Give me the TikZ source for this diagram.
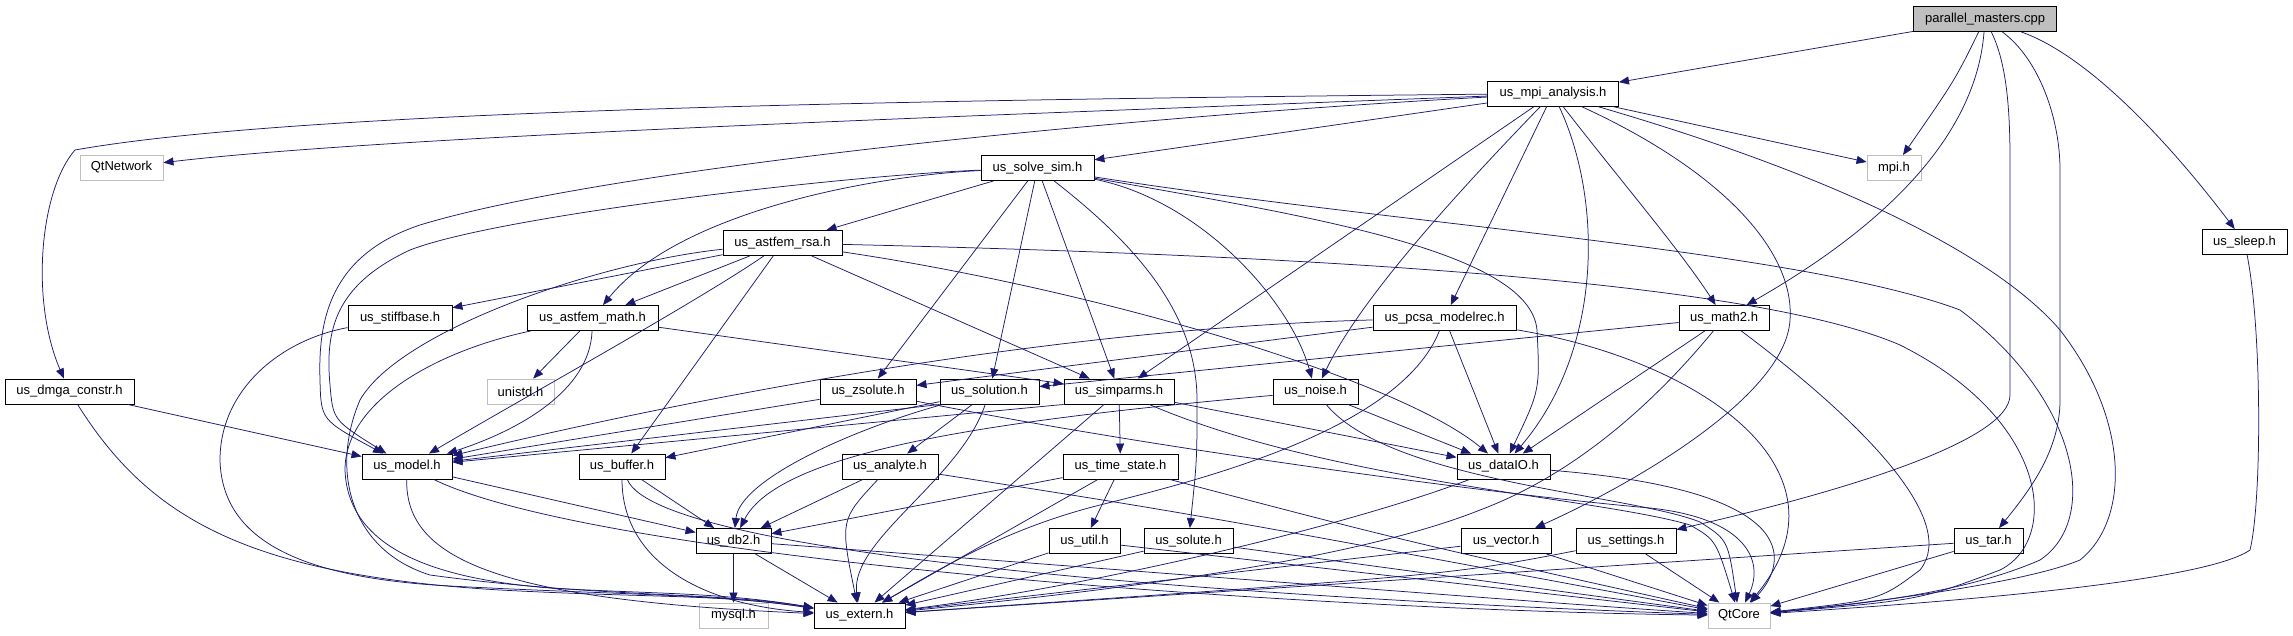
\documentclass[tikz,border=0pt]{standalone}
\usepackage{fontspec}
\setmainfont{Liberation Sans}
\usetikzlibrary{arrows.meta}
\definecolor{edgec}{RGB}{25,25,112}
\definecolor{grayb}{RGB}{191,191,191}
\tikzset{
  nb/.style={draw=black, line width=0.9pt, fill=white, minimum height=25pt, inner sep=0pt, font=\fontsize{13}{15}\selectfont},
  ng/.style={nb, draw=grayb},
  rootnode/.style={nb, fill=grayb},
  e/.style={draw=edgec, line width=0.75pt, -{Triangle[length=10pt,width=8pt]}}
}
\begin{document}
\begin{tikzpicture}[x=1pt,y=-1pt]
\useasboundingbox (0,0) rectangle (2293,635);
% nodes
\node[rootnode, minimum width=143pt] (pm) at (1985,19) {parallel\_masters.cpp};
\node[nb, minimum width=131pt] (mpi) at (1553,93.5) {us\_mpi\_analysis.h};
\node[ng, minimum width=83pt] (qtnet) at (121.5,167.5) {QtNetwork};
\node[nb, minimum width=113pt] (solve) at (1037.5,168) {us\_solve\_sim.h};
\node[ng, minimum width=54pt] (mpih) at (1894,168) {mpi.h};
\node[nb, minimum width=119pt] (rsa) at (782.5,243) {us\_astfem\_rsa.h};
\node[nb, minimum width=85pt] (sleep) at (2244.5,242) {us\_sleep.h};
\node[nb, minimum width=104pt] (stiff) at (400,318) {us\_stiffbase.h};
\node[nb, minimum width=131pt] (astmath) at (592.5,318) {us\_astfem\_math.h};
\node[nb, minimum width=143pt] (pcsa) at (1444.5,318) {us\_pcsa\_modelrec.h};
\node[nb, minimum width=90pt] (math2) at (1724,318) {us\_math2.h};
\node[nb, minimum width=129pt] (dmga) at (69.5,391.5) {us\_dmga\_constr.h};
\node[ng, minimum width=67pt] (unistd) at (520.5,391.5) {unistd.h};
\node[nb, minimum width=96pt] (zsolute) at (868,391.5) {us\_zsolute.h};
\node[nb, minimum width=99pt] (solution) at (989.5,391.5) {us\_solution.h};
\node[nb, minimum width=110pt] (simparms) at (1119,391.5) {us\_simparms.h};
\node[nb, minimum width=85pt] (noise) at (1315.5,391.5) {us\_noise.h};
\node[nb, minimum width=90pt] (model) at (407,466.5) {us\_model.h};
\node[nb, minimum width=86pt] (buffer) at (622,466.5) {us\_buffer.h};
\node[nb, minimum width=96pt] (analyte) at (890,466.5) {us\_analyte.h};
\node[nb, minimum width=115pt] (tstate) at (1120.5,466.5) {us\_time\_state.h};
\node[nb, minimum width=93pt] (dataio) at (1503.5,466.5) {us\_dataIO.h};
\node[nb, minimum width=75pt] (db2) at (733.5,541) {us\_db2.h};
\node[nb, minimum width=71pt] (util) at (1084.5,541) {us\_util.h};
\node[nb, minimum width=89pt] (solute) at (1188.5,541) {us\_solute.h};
\node[nb, minimum width=90pt] (vector) at (1506,541) {us\_vector.h};
\node[nb, minimum width=100pt] (settings) at (1626,541) {us\_settings.h};
\node[nb, minimum width=69pt] (tar) at (1988.5,541) {us\_tar.h};
\node[ng, minimum width=69pt] (mysql) at (733.5,615.5) {mysql.h};
\node[nb, minimum width=91pt] (extern) at (859.5,615.5) {us\_extern.h};
\node[ng, minimum width=62pt] (qtcore) at (1739,615.5) {QtCore};
% root
\draw[e] (pm) -- (mpi);
\draw[e] (pm) .. controls (1955,80) .. (mpih);
\draw[e] (pm) .. controls (1975,150) and (1860,240) .. (math2);
\draw[e] (pm) .. controls (2005,60) and (2010,100) .. (2010,160) -- (2010,395) .. controls (2010,440) and (1850,490) .. (settings);
\draw[e] (pm) .. controls (2040,60) and (2060,120) .. (2060,170) -- (2060,400) .. controls (2060,450) and (2030,490) .. (tar);
\draw[e] (pm) .. controls (2100,60) and (2190,170) .. (sleep);
% mpi
\draw[e] (mpi) .. controls (900,100) and (300,110) .. (75,150) .. controls (40,190) and (30,300) .. (dmga);
\draw[e] (mpi) .. controls (1000,115) and (400,135) .. (qtnet);
\draw[e] (mpi) -- (solve);
\draw[e] (mpi) .. controls (1100,118) and (600,170) .. (420,225) .. controls (330,255) and (318,320) .. (320,380) .. controls (321,420) .. (model);
\draw[e] (mpi) -- (mpih);
\draw[e] (mpi) -- (simparms);
\draw[e] (mpi) .. controls (1450,200) and (1360,300) .. (noise);
\draw[e] (mpi) -- (pcsa);
\draw[e] (mpi) .. controls (1603,200) and (1603,350) .. (dataio);
\draw[e] (mpi) .. controls (1620,180) and (1680,250) .. (math2);
\draw[e] (mpi) .. controls (1720,170) and (1795,250) .. (1790,320) .. controls (1785,400) and (1620,490) .. (vector);
\draw[e] (mpi) .. controls (1850,180) and (2000,260) .. (2060,330) .. controls (2130,420) and (2130,520) .. (2080,560) .. controls (2020,585) and (1850,605) .. (qtcore);
% solve
\draw[e] (solve) -- (rsa);
\draw[e] (solve) .. controls (880,175) and (680,210) .. (astmath);
\draw[e] (solve) .. controls (850,175) and (500,215) .. (410,250) .. controls (335,285) and (325,330) .. (330,385) .. controls (333,420) .. (model);
\draw[e] (solve) -- (zsolute);
\draw[e] (solve) -- (solution);
\draw[e] (solve) -- (simparms);
\draw[e] (solve) .. controls (1130,240) and (1197,310) .. (1197,400) .. controls (1197,460) .. (solute);
\draw[e] (solve) .. controls (1200,200) and (1290,300) .. (noise);
\draw[e] (solve) .. controls (1300,215) and (1530,250) .. (1537,330) .. controls (1540,390) .. (dataio);
\draw[e] (solve) .. controls (1400,225) and (1800,250) .. (1960,310) .. controls (2080,400) and (2100,520) .. (2040,560) .. controls (1960,595) and (1850,605) .. (qtcore);
% rsa
\draw[e] (rsa) -- (stiff);
\draw[e] (rsa) -- (astmath);
\draw[e] (rsa) .. controls (700,300) and (520,400) .. (model);
\draw[e] (rsa) .. controls (600,262) and (400,330) .. (360,400) .. controls (330,470) and (350,550) .. (430,575) .. controls (600,598) and (720,592) .. (extern);
\draw[e] (rsa) -- (buffer);
\draw[e] (rsa) -- (simparms);
\draw[e] (rsa) .. controls (1100,290) and (1400,380) .. (dataio);
\draw[e] (rsa) .. controls (1300,255) and (1750,280) .. (1900,345) .. controls (2050,420) and (2060,540) .. (2000,570) .. controls (1920,600) .. (qtcore);
% stiffbase
\draw[e] (stiff) .. controls (280,340) and (220,390) .. (220,460) .. controls (222,540) and (300,578) .. (450,586) .. controls (620,595) and (720,594) .. (extern);
% astfem_math
\draw[e] (astmath) -- (unistd);
\draw[e] (astmath) .. controls (590,390) and (520,430) .. (model);
\draw[e] (astmath) -- (simparms);
\draw[e] (astmath) .. controls (440,350) and (345,400) .. (345,470) .. controls (348,555) and (450,580) .. (550,588) .. controls (650,594) and (720,592) .. (extern);
% pcsa
\draw[e] (pcsa) .. controls (1000,330) and (600,420) .. (model);
\draw[e] (pcsa) -- (zsolute);
\draw[e] (pcsa) -- (dataio);
\draw[e] (pcsa) .. controls (1400,430) and (1200,480) .. (1100,505) .. controls (1000,530) and (930,575) .. (extern);
\draw[e] (pcsa) .. controls (1700,360) and (1860,470) .. (qtcore);
% math2
\draw[e] (math2) -- (solution);
\draw[e] (math2) -- (dataio);
\draw[e] (math2) .. controls (1640,420) and (1560,480) .. (1480,510) .. controls (1350,562) and (1100,592) .. (extern);
\draw[e] (math2) .. controls (1860,420) and (1960,520) .. (1920,570) .. controls (1880,600) .. (qtcore);
% dmga
\draw[e] (dmga) -- (model);
\draw[e] (dmga) .. controls (150,520) and (250,575) .. (500,590) .. controls (650,598) and (720,594) .. (extern);
% zsolute
\draw[e] (zsolute) -- (model);
\draw[e] (zsolute) .. controls (1150,448) and (1500,495) .. (1650,508) .. controls (1745,518) and (1765,560) .. (qtcore);
% solution
\draw[e] (solution.south west) -- (model);
\draw[e] (solution) -- (buffer);
\draw[e] (solution) -- (analyte);
\draw[e] (solution) .. controls (850,430) and (740,480) .. (db2);
\draw[e] (solution) .. controls (960,480) and (850,540) .. (extern);
% simparms
\draw[e] (simparms.south west) -- (model);
\draw[e] (simparms) -- (tstate);
\draw[e] (simparms) -- (dataio);
\draw[e] (simparms) -- (extern);
\draw[e] (simparms) .. controls (1330,482) and (1600,498) .. (1690,525) .. controls (1716,540) .. (qtcore);
% noise
\draw[e] (noise) .. controls (1000,420) and (780,450) .. (db2);
\draw[e] (noise) -- (dataio);
\draw[e] (noise) .. controls (1390,482) and (1630,494) .. (1700,522) .. controls (1728,540) .. (qtcore);
% model
\draw[e] (model) -- (db2);
\draw[e] (model) .. controls (405,560) and (500,600) .. (extern);
\draw[e] (model) .. controls (600,560) and (1300,610) .. (qtcore);
% buffer
\draw[e] (buffer) -- (db2);
\draw[e] (buffer) .. controls (622,560) and (700,605) .. (extern);
\draw[e] (buffer) .. controls (660,560) and (1300,600) .. (qtcore);
% analyte
\draw[e] (analyte) -- (db2);
\draw[e] (analyte) .. controls (840,520) .. (extern);
\draw[e] (analyte) .. controls (1200,515) .. (qtcore);
% time_state
\draw[e] (tstate) -- (db2);
\draw[e] (tstate) -- (util);
\draw[e] (tstate) -- (extern);
\draw[e] (tstate) .. controls (1400,540) .. (qtcore);
% dataIO
\draw[e] (dataio) .. controls (1350,525) and (1100,585) .. (extern);
\draw[e] (dataio) .. controls (1800,490) and (1790,560) .. (qtcore);
% db2
\draw[e] (db2) -- (mysql);
\draw[e] (db2) -- (extern);
\draw[e] (db2) .. controls (1000,560) and (1500,600) .. (qtcore);
% leaves
\draw[e] (util) -- (extern);
\draw[e] (util) -- (qtcore);
\draw[e] (solute) -- (extern);
\draw[e] (solute) -- (qtcore);
\draw[e] (vector) -- (extern);
\draw[e] (vector) -- (qtcore);
\draw[e] (settings) .. controls (1450,575) .. (extern);
\draw[e] (settings) -- (qtcore);
\draw[e] (tar) -- (extern);
\draw[e] (tar) -- (qtcore);
\draw[e] (sleep) .. controls (2262,330) and (2262,500) .. (2250,550) .. controls (2200,585) and (1900,605) .. (qtcore);
\end{tikzpicture}
\end{document}
